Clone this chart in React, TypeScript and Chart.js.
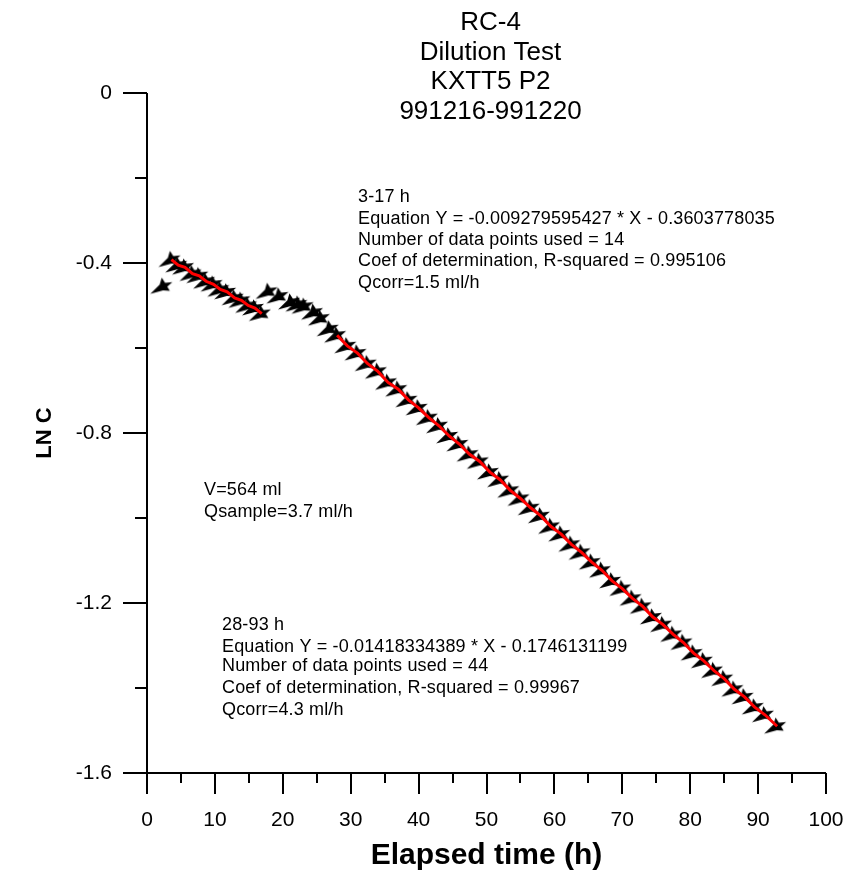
import React, { useEffect, useRef } from "react";
import { Chart, registerables } from "chart.js";

Chart.register(...registerables);

// ---- data (elapsed time in h, LN C) ----
const outlierTime = [2.4];
const outlierLn = [-0.455];

// fitted range 3-17 h (14 points)
const timeA = [3.6, 4.6, 5.6, 6.7, 7.7, 8.7, 9.8, 10.8, 11.8, 12.9, 13.9, 14.9, 15.9, 16.9];
const lnA = [-0.392, -0.405, -0.410, -0.425, -0.430, -0.443, -0.450, -0.462, -0.468, -0.482, -0.488, -0.500, -0.506, -0.519];

// unfitted points between ranges
const timeB = [17.9, 19.5, 21.2, 22.3, 23.2, 24.6, 25.6, 26.9];
const lnB = [-0.467, -0.478, -0.492, -0.497, -0.502, -0.516, -0.530, -0.555];

// fitted range 28-93 h (44 points)
const timeC = [
  28.0, 29.5, 31.0, 32.5, 34.0, 35.5, 37.0, 38.5, 40.0, 41.5, 43.0,
  44.5, 46.0, 47.5, 49.0, 50.5, 52.0, 53.5, 55.0, 56.5, 58.0, 59.5,
  61.0, 62.5, 64.0, 65.5, 67.0, 68.5, 70.0, 71.5, 73.0, 74.5, 76.0,
  77.5, 79.0, 80.5, 82.0, 83.5, 85.0, 86.5, 88.0, 89.5, 91.0, 92.8,
];
const lnC = [
  -0.570, -0.595, -0.612, -0.637, -0.655, -0.681, -0.697, -0.722, -0.741, -0.764, -0.783,
  -0.807, -0.826, -0.850, -0.867, -0.892, -0.910, -0.935, -0.954, -0.976, -0.995, -1.020,
  -1.038, -1.062, -1.081, -1.104, -1.123, -1.148, -1.166, -1.189, -1.208, -1.233, -1.251,
  -1.274, -1.293, -1.318, -1.336, -1.359, -1.378, -1.403, -1.421, -1.445, -1.463, -1.490,
];

const xTicks = [0, 10, 20, 30, 40, 50, 60, 70, 80, 90, 100];
const xMinorTicks = [5, 15, 25, 35, 45, 55, 65, 75, 85, 95];
const yTicks = [-1.6, -1.2, -0.8, -0.4, 0];
const yTickLabels = ["-1.6", "-1.2", "-0.8", "-0.4", "0"];
const yMinorTicks = [-1.4, -1.0, -0.6, -0.2];

const titleLines = ["RC-4", "Dilution Test", "KXTT5 P2", "991216-991220"];
const xAxisTitle = "Elapsed time (h)";
const yAxisTitle = "LN C";
const note1 = [
  "3-17 h",
  "Equation Y = -0.009279595427 * X - 0.3603778035",
  "Number of data points used = 14",
  "Coef of determination, R-squared = 0.995106",
  "Qcorr=1.5 ml/h",
];
const note2 = ["V=564 ml", "Qsample=3.7 ml/h"];
const note3 = [
  "28-93 h",
  "Equation Y = -0.01418334389 * X - 0.1746131199",
  "Number of data points used = 44",
  "Coef of determination, R-squared = 0.99967",
  "Qcorr=4.3 ml/h",
];

const FONT = "Arial, 'Liberation Sans', sans-serif";
const W = 845;
const H = 873;

function pts(xs: number[], ys: number[]) {
  return xs.map((x, i) => ({ x, y: ys[i] }));
}

function makeMarker(): HTMLCanvasElement {
  const c = document.createElement("canvas");
  c.width = 40;
  c.height = 40;
  const g = c.getContext("2d")!;
  g.translate(20, 20);
  // arms: [angle in degrees (math, y up), length]
  const arms: [number, number][] = [
    [25, 10],
    [100, 9],
    [210, 15],
    [325, 8],
  ];
  g.beginPath();
  for (let i = 0; i < arms.length; i++) {
    const [a, l] = arms[i];
    const next = arms[(i + 1) % arms.length];
    let na = next[0];
    if (na < a) na += 360;
    const mid = ((a + na) / 2) * (Math.PI / 180);
    const ar = a * (Math.PI / 180);
    const tx = Math.cos(ar) * l;
    const ty = -Math.sin(ar) * l;
    if (i === 0) g.moveTo(tx, ty);
    else g.lineTo(tx, ty);
    g.lineTo(Math.cos(mid) * 4, -Math.sin(mid) * 4);
  }
  g.closePath();
  g.fillStyle = "#000";
  g.fill();
  return c;
}

const decorPlugin = {
  id: "decor",
  beforeDatasetsDraw(chart: any) {
    const { ctx, chartArea } = chart;
    const { left, right, top, bottom } = chartArea;
    const xs = chart.scales.x;
    const ys = chart.scales.y;
    ctx.save();
    ctx.strokeStyle = "#000";
    ctx.lineWidth = 2;
    ctx.lineCap = "butt";
    ctx.beginPath();
    ctx.moveTo(left, top);
    ctx.lineTo(left, bottom);
    ctx.moveTo(left - 1, bottom);
    ctx.lineTo(right, bottom);
    xTicks.forEach((v) => {
      const p = Math.round(xs.getPixelForValue(v));
      ctx.moveTo(p, bottom);
      ctx.lineTo(p, bottom + 21);
    });
    xMinorTicks.forEach((v) => {
      const p = Math.round(xs.getPixelForValue(v));
      ctx.moveTo(p, bottom);
      ctx.lineTo(p, bottom + 10);
    });
    yTicks.forEach((v) => {
      const p = Math.round(ys.getPixelForValue(v));
      ctx.moveTo(left, p);
      ctx.lineTo(left - 24, p);
    });
    yMinorTicks.forEach((v) => {
      const p = Math.round(ys.getPixelForValue(v));
      ctx.moveTo(left, p);
      ctx.lineTo(left - 12, p);
    });
    ctx.stroke();
    ctx.restore();
  },
  afterDraw(chart: any) {
    const { ctx, chartArea } = chart;
    const { left, right, top, bottom } = chartArea;
    const cx = (left + right) / 2;
    ctx.save();
    ctx.fillStyle = "#000";
    ctx.textBaseline = "middle";

    // title
    ctx.font = `26px ${FONT}`;
    ctx.textAlign = "center";
    const tY = [23, 53, 82, 112];
    titleLines.forEach((t, i) => ctx.fillText(t, cx + 4, tY[i]));

    // notes
    ctx.font = `18px ${FONT}`;
    ctx.textAlign = "left";
    try {
      (ctx as any).letterSpacing = "0.15px";
    } catch (e) {}
    const n1Y = [197, 219, 240, 261, 283];
    note1.forEach((t, i) => ctx.fillText(t, 358, n1Y[i]));
    const n2Y = [490, 512];
    note2.forEach((t, i) => ctx.fillText(t, 204, n2Y[i]));
    const n3Y = [625, 647, 666, 688, 710];
    note3.forEach((t, i) => ctx.fillText(t, 222, n3Y[i]));
    try {
      (ctx as any).letterSpacing = "0px";
    } catch (e) {}

    // axis titles
    ctx.font = `bold 30px ${FONT}`;
    ctx.textAlign = "center";
    ctx.fillText(xAxisTitle, cx, 856);
    ctx.font = `bold 22px ${FONT}`;
    ctx.translate(45, (top + bottom) / 2);
    ctx.rotate(-Math.PI / 2);
    ctx.fillText(yAxisTitle, 0, 0);
    ctx.restore();
  },
};

export default function App() {
  const ref = useRef<HTMLCanvasElement | null>(null);
  useEffect(() => {
    if (!ref.current) return;
    const marker = makeMarker();
    const allPoints = [
      ...pts(outlierTime, outlierLn),
      ...pts(timeA, lnA),
      ...pts(timeB, lnB),
      ...pts(timeC, lnC),
    ];
    const chart = new Chart(ref.current, {
      type: "scatter",
      data: {
        datasets: [
          {
            label: "fit 3-17 h",
            data: pts(timeA, lnA),
            showLine: true,
            borderColor: "#ff0000",
            borderWidth: 3,
            pointRadius: 0,
            fill: false,
          },
          {
            label: "fit 28-93 h",
            data: pts(timeC, lnC),
            showLine: true,
            borderColor: "#ff0000",
            borderWidth: 3,
            pointRadius: 0,
            fill: false,
          },
          {
            label: "LN C",
            data: allPoints,
            showLine: false,
            pointStyle: marker as any,
            pointRadius: 12,
            backgroundColor: "#000",
            borderColor: "#000",
          },
        ],
      },
      options: {
        responsive: false,
        animation: false,
        events: [],
        layout: { padding: { left: 0, right: 19, top: 93, bottom: 0 } },
        plugins: {
          legend: { display: false },
          tooltip: { enabled: false },
          title: { display: false },
        },
        scales: {
          x: {
            type: "linear",
            min: 0,
            max: 100,
            afterBuildTicks: (s: any) => {
              s.ticks = xTicks.map((v) => ({ value: v }));
            },
            afterFit: (s: any) => {
              s.height = 100;
              s.paddingLeft = 0;
              s.paddingRight = 0;
            },
            grid: { display: false, drawTicks: false },
            border: { display: false },
            ticks: {
              color: "#000",
              font: { size: 21, family: FONT },
              padding: 35,
              maxRotation: 0,
              autoSkip: false,
            },
          },
          y: {
            type: "linear",
            min: -1.6,
            max: 0,
            afterBuildTicks: (s: any) => {
              s.ticks = yTicks.map((v) => ({ value: v }));
            },
            afterFit: (s: any) => {
              s.width = 147;
              s.paddingTop = 0;
              s.paddingBottom = 0;
            },
            grid: { display: false, drawTicks: false },
            border: { display: false },
            ticks: {
              color: "#000",
              font: { size: 21, family: FONT },
              padding: 35,
              autoSkip: false,
              callback: (_v: any, i: number) => yTickLabels[i],
            },
          },
        },
      },
      plugins: [decorPlugin],
    });
    return () => chart.destroy();
  }, []);
  return (
    <div
      style={{
        position: "fixed",
        left: 0,
        top: 0,
        width: W,
        height: H,
        background: "#fff",
      }}
    >
      <canvas ref={ref} width={W} height={H} style={{ display: "block" }} />
    </div>
  );
}
